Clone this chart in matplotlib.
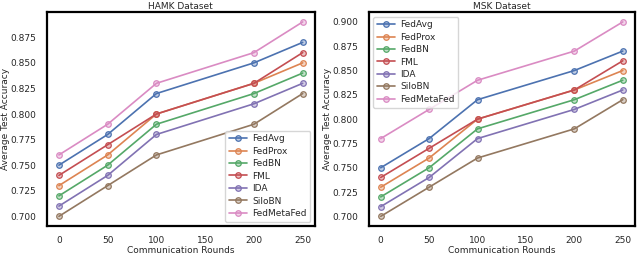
import matplotlib
matplotlib.use("Agg")
import matplotlib.pyplot as plt
import seaborn as sns

sns.set_theme(style="white")
plt.rcParams['font.family'] = ['DejaVu Sans']

rounds = [0, 50, 100, 200, 250]
methods = ["FedAvg", "FedProx", "FedBN", "FML", "IDA", "SiloBN", "FedMetaFed"]

hamk = {
    "FedAvg":     [0.75, 0.78, 0.82, 0.85, 0.87],
    "FedProx":    [0.73, 0.76, 0.80, 0.83, 0.85],
    "FedBN":      [0.72, 0.75, 0.79, 0.82, 0.84],
    "FML":        [0.74, 0.77, 0.80, 0.83, 0.86],
    "IDA":        [0.71, 0.74, 0.78, 0.81, 0.83],
    "SiloBN":     [0.70, 0.73, 0.76, 0.79, 0.82],
    "FedMetaFed": [0.76, 0.79, 0.83, 0.86, 0.89],
}
msk = {
    "FedAvg":     [0.75, 0.78, 0.82, 0.85, 0.87],
    "FedProx":    [0.73, 0.76, 0.80, 0.83, 0.85],
    "FedBN":      [0.72, 0.75, 0.79, 0.82, 0.84],
    "FML":        [0.74, 0.77, 0.80, 0.83, 0.86],
    "IDA":        [0.71, 0.74, 0.78, 0.81, 0.83],
    "SiloBN":     [0.70, 0.73, 0.76, 0.79, 0.82],
    "FedMetaFed": [0.78, 0.81, 0.84, 0.87, 0.90],
}
titles = ["HAMK Dataset", "MSK Dataset"]
legend_locs = ["lower right", "upper left"]

colors = sns.color_palette("deep", 7)

fs = 6.5
fig = plt.figure(figsize=(6.4, 2.54), dpi=100)
axes = [fig.add_axes([0.073, 0.11, 0.419, 0.842]),
        fig.add_axes([0.576, 0.11, 0.416, 0.842])]

for ax, data, title, loc in zip(axes, [hamk, msk], titles, legend_locs):
    for m, c in zip(methods, colors):
        ax.plot(rounds, data[m], color=c, lw=1.2, marker='o', ms=4,
                mfc=(c[0], c[1], c[2], 0.35), mec=c, mew=0.9, label=m)
    ax.set_title(title, fontsize=fs, pad=2)
    ax.set_xlabel("Communication Rounds", fontsize=fs, labelpad=0.3)
    ax.set_ylabel("Average Test Accuracy", fontsize=fs, labelpad=0.4)
    ax.tick_params(labelsize=fs, pad=1.5)
    ax.set_xticks([0, 50, 100, 150, 200, 250])
    ax.yaxis.set_major_formatter(matplotlib.ticker.FormatStrFormatter('%.3f'))
    for s in ax.spines.values():
        s.set_color('black')
        s.set_linewidth(1.6)
    ax.legend(loc=loc, fontsize=fs, frameon=True, borderpad=0.4,
              labelspacing=0.38, handlelength=2.0, handletextpad=0.6)

fig.savefig("out.png", dpi=100)
